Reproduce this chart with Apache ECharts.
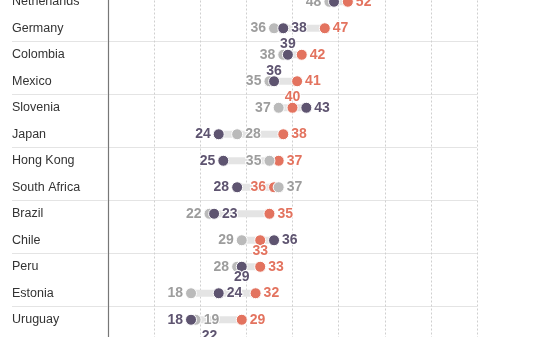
<!DOCTYPE html>
<html><head><meta charset="utf-8">
<script src="https://cdn.jsdelivr.net/npm/echarts@6/dist/echarts.min.js"></script>
<style>html,body{margin:0;padding:0;background:#fff;overflow:hidden;width:535px;height:337px}#c{position:absolute;left:0;top:-12px;width:535px;height:372px}</style>
</head><body><div id="c"></div>
<script>
var countries = ['Netherlands','Germany','Colombia','Mexico','Slovenia','Japan','Hong Kong','South Africa','Brazil','Chile','Peru','Estonia','Uruguay',''];
var grayVals   = [48,36,38,35,37,28,35,37,22,29,28,18,19,null];
var darkVals   = [49,38,39,36,43,24,25,28,23,36,29,24,18,22];
var orangeVals = [52,47,42,41,40,38,37,36,35,33,33,32,29,null];
var xTicks = [0,10,20,30,40,50,60,70,80];

// label placement per point (style, kept apart from the values)
var grayPos   = ['left','left','left','left','left','right','left','right','left','left','left','left','right',null];
var darkPos   = ['top','right','top','top','right','left','left','left','right','right','bottom','right','left','top'];
var orangePos = ['right','right','right','right','top','right','right','left','right','bottom','right','right','right',null];

var C_GRAY = '#bababa', C_DARK = '#5e5470', C_ORANGE = '#e3735f';
var L_GRAY = '#9d9d9d';

function mins(i){ var a=[grayVals[i],darkVals[i],orangeVals[i]].filter(function(v){return v!=null;}); return Math.min.apply(null,a); }
function maxs(i){ var a=[grayVals[i],darkVals[i],orangeVals[i]].filter(function(v){return v!=null;}); return Math.max.apply(null,a); }
var baseData = countries.map(function(c,i){ return mins(i); });
var rangeData = countries.map(function(c,i){ return maxs(i)-mins(i); });

function pts(vals, pos, col){
  return vals.map(function(v,i){
    if (v==null) return [null, i];
    var vert = pos[i]==='top' || pos[i]==='bottom';
    return { value:[v,i], label:{ position: pos[i], color: col, distance: vert ? -2.5 : 2 } };
  });
}
var numFont = {show:true, formatter:function(p){return p.value[0];}, fontFamily:'Liberation Sans', fontWeight:'bold', fontSize:14, distance:2, textBorderColor:'#fff', textBorderWidth:2};

var sepInterval = function(idx){ return idx % 2 === 0; };

var chart = echarts.init(document.getElementById('c'));
chart.setOption({
  animation:false,
  grid:{left:108, right:58, top:0.5, bottom:0.5, containLabel:false},
  xAxis:{type:'value', min:xTicks[0], max:xTicks[xTicks.length-1], interval:10,
    axisLine:{show:false}, axisTick:{show:false}, axisLabel:{show:false},
    splitLine:{show:true, lineStyle:{color:'#cfcfcf', type:[2,2], width:1}}},
  yAxis:{type:'category', inverse:true, data:countries,
    axisLine:{show:true, lineStyle:{color:'#777', width:1.2}},
    axisTick:{show:true, length:96, interval:sepInterval, lineStyle:{color:'#e4e4e4', width:1.2}},
    axisLabel:{align:'left', margin:96, fontFamily:'Liberation Sans', fontSize:12.5, color:'#333', interval:0},
    splitLine:{show:true, interval:sepInterval, lineStyle:{color:'#e4e4e4', width:1.2}}},
  series:[
    {type:'bar', stack:'r', data:baseData, barWidth:7, itemStyle:{color:'rgba(0,0,0,0)'}, silent:true, z:1},
    {type:'bar', stack:'r', data:rangeData, barWidth:7, itemStyle:{color:'#e4e4e4'}, silent:true, z:1},
    {type:'scatter', data:pts(orangeVals, orangePos, C_ORANGE), symbolSize:11, itemStyle:{color:C_ORANGE, borderColor:'#fff', borderWidth:1, opacity:1}, label:numFont, z:3},
    {type:'scatter', data:pts(grayVals, grayPos, L_GRAY), symbolSize:11, itemStyle:{color:C_GRAY, borderColor:'#fff', borderWidth:1, opacity:1}, label:numFont, z:4},
    {type:'scatter', data:pts(darkVals, darkPos, C_DARK), symbolSize:11, itemStyle:{color:C_DARK, borderColor:'#fff', borderWidth:1, opacity:1}, label:numFont, z:5}
  ]
});
</script></body></html>
